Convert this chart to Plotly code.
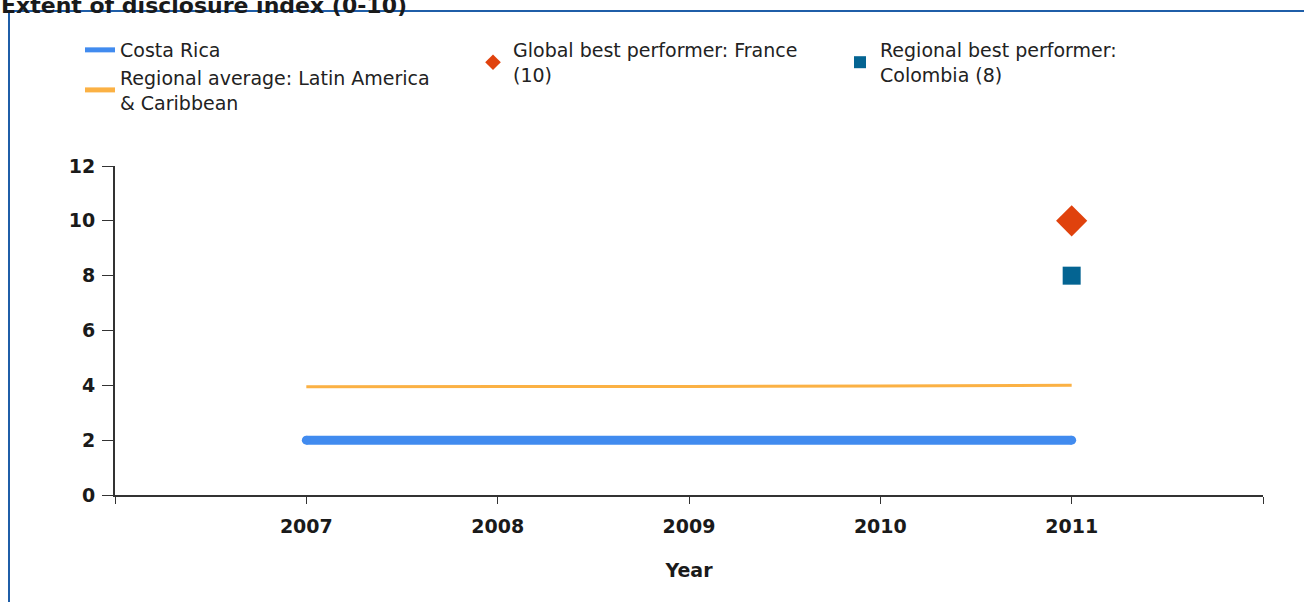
import plotly.graph_objects as go

# data
years = [2007, 2008, 2009, 2010, 2011]
costa_rica = [2, 2, 2, 2, 2]
regional_avg = [3.95, 3.95, 3.96, 3.98, 4.0]
best_year = [2011]
global_best = [10]
regional_best = [8]

tick_vals = [2006, 2007, 2008, 2009, 2010, 2011, 2012]
tick_text = ["", "2007", "2008", "2009", "2010", "2011", ""]

W, H = 1304, 602
L, R, T, B = 115, 41, 166, 107
pw, ph = W - L - R, H - T - B


def px(x):
    return (x - L) / pw


def py(y):
    return (H - B - y) / ph


fig = go.Figure()

fig.add_trace(
    go.Scatter(
        x=years,
        y=costa_rica,
        mode="lines",
        name="Costa Rica",
        line=dict(color="#418bef", width=9),
        legend="legend",
    )
)
# round line ends
fig.add_trace(
    go.Scatter(
        x=[years[0], years[-1]],
        y=[costa_rica[0], costa_rica[-1]],
        mode="markers",
        marker=dict(color="#418bef", size=9),
        showlegend=False,
        hoverinfo="skip",
    )
)
fig.add_trace(
    go.Scatter(
        x=years,
        y=regional_avg,
        mode="lines",
        name="Regional average: Latin America<br>& Caribbean",
        line=dict(color="#fbb144", width=3),
        legend="legend",
    )
)
fig.add_trace(
    go.Scatter(
        x=best_year,
        y=global_best,
        mode="markers",
        name="Global best performer: France<br>(10)",
        marker=dict(symbol="diamond", color="#e0420d", size=24),
        legend="legend2",
    )
)
fig.add_trace(
    go.Scatter(
        x=best_year,
        y=regional_best,
        mode="markers",
        name="Regional best performer:<br>Colombia (8)",
        marker=dict(symbol="square", color="#046492", size=18),
        legend="legend3",
    )
)

legend_font = dict(family="DejaVu Sans, Verdana, sans-serif", size=19, color="#222222")
leg_common = dict(
    orientation="v",
    xanchor="left",
    yanchor="top",
    font=legend_font,
    bgcolor="rgba(0,0,0,0)",
    tracegroupgap=0,
    itemsizing="constant",
)

axis_font = dict(family="DejaVu Sans", size=19, color="#1a1a1a", weight="bold")
frame = "#1f5ea8"

fig.update_layout(
    width=W,
    height=H,
    margin=dict(l=L, r=R, t=T, b=B),
    paper_bgcolor="white",
    plot_bgcolor="white",
    showlegend=True,
    legend=dict(x=px(80), y=py(31), **leg_common),
    legend2=dict(x=px(473), y=py(31), **leg_common),
    legend3=dict(x=px(840), y=py(31), **leg_common),
    xaxis=dict(
        range=[2006, 2012],
        tickvals=tick_vals,
        ticktext=tick_text,
        ticks="outside",
        ticklen=7,
        tickcolor="#333333",
        showline=True,
        linecolor="#333333",
        linewidth=2,
        showgrid=False,
        zeroline=False,
        tickfont=axis_font,
        ticklabelstandoff=6,
        title=dict(
            text="<b>Year</b>",
            font=dict(family="DejaVu Sans", size=19, color="#1a1a1a"),
            standoff=28,
        ),
    ),
    yaxis=dict(
        range=[0, 12],
        tickvals=[0, 2, 4, 6, 8, 10, 12],
        ticks="outside",
        ticklen=11,
        tickcolor="#333333",
        showline=True,
        linecolor="#333333",
        linewidth=2,
        showgrid=False,
        zeroline=False,
        tickfont=axis_font,
        ticklabelstandoff=3,
    ),
    shapes=[
        dict(
            type="path",
            xref="paper",
            yref="paper",
            path=f"M {px(9)} {py(H + 20)} L {px(9)} {py(11)} L {px(W + 20)} {py(11)}",
            line=dict(color=frame, width=2),
        )
    ],
    annotations=[
        dict(
            text="<b>Extent of disclosure index (0-10)</b>",
            xref="paper",
            yref="paper",
            x=px(-1),
            y=py(20),
            xanchor="left",
            yanchor="bottom",
            showarrow=False,
            font=dict(family="DejaVu Sans", size=22, color="#1a1a1a"),
        )
    ],
)

# page without the browser's default body margin, so the figure fills the window
fig.write_html(
    "out.html",
    config={"displayModeBar": False},
    post_script="document.body.style.margin='0';",
)
